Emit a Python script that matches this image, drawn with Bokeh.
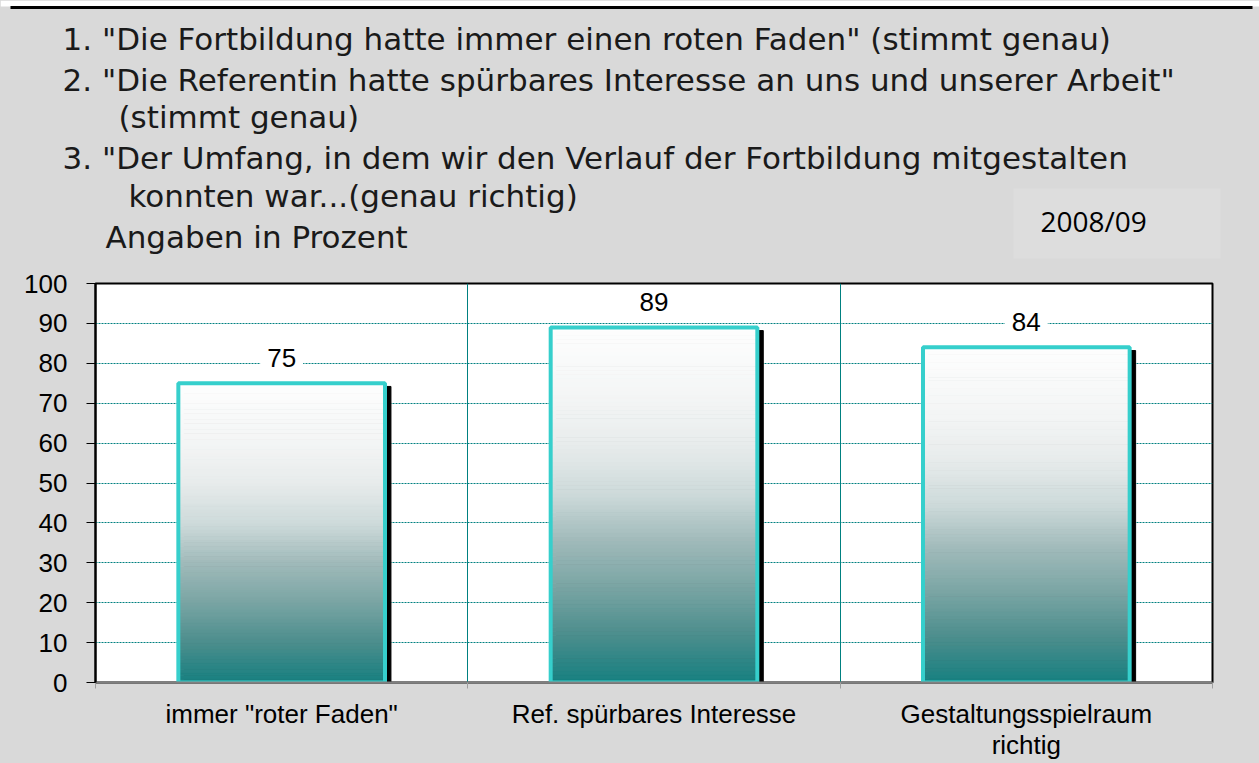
from bokeh.plotting import figure
from bokeh.layouts import column
from bokeh.models import Range1d, FixedTicker
from bokeh.embed import file_html
from bokeh.resources import INLINE
from bokeh.core.properties import value

# ---- data ----
categories = ['immer "roter Faden"', 'Ref. spürbares Interesse', 'Gestaltungsspielraum\nrichtig']
values = [75, 89, 84]
y_ticks = [0, 10, 20, 30, 40, 50, 60, 70, 80, 90, 100]
title_lines = [
    '1. "Die Fortbildung hatte immer einen roten Faden" (stimmt genau)',
    '2. "Die Referentin hatte spürbares Interesse an uns und unserer Arbeit"',
    '(stimmt genau)',
    '3. "Der Umfang, in dem wir den Verlauf der Fortbildung mitgestalten',
    'konnten war...(genau richtig)',
    'Angaben in Prozent',
]
year_label = "2008/09"

# ---- style ----
W, H = 1259, 763
HEAD_H = 268
PANEL = "#d9d9d9"
TEAL = "#008080"
BORDER = "#36cfcc"
BAR_W = 0.555
N_SLICES = 90
stops = [(0.0, (22, 128, 128)), (0.13, (74, 141, 140)), (0.27, (122, 165, 164)),
         (0.40, (160, 186, 186)), (0.53, (205, 218, 218)), (0.67, (232, 236, 236)),
         (0.80, (243, 245, 245)), (1.0, (254, 254, 254))]


def grad(f):
    for (f0, c0), (f1, c1) in zip(stops[:-1], stops[1:]):
        if f <= f1:
            t = (f - f0) / (f1 - f0)
            c = [round(a + (b - a) * t) for a, b in zip(c0, c1)]
            return "#%02x%02x%02x" % tuple(c)
    return "#%02x%02x%02x" % stops[-1][1]


# ---------------- header (text panel) ----------------
head = figure(width=W, height=HEAD_H, output_backend="svg", toolbar_location=None,
              x_range=Range1d(0, W), y_range=Range1d(HEAD_H, 0),
              min_border=0, background_fill_color=PANEL, border_fill_color=PANEL,
              outline_line_color=None)
head.axis.visible = False
head.grid.visible = False
head.frame_align = False

# white page strip and dark rule at the very top
head.quad(left=[0], right=[W], top=[0], bottom=[6], fill_color="white", line_color=None)
head.segment(x0=[10], y0=[7], x1=[1252], y1=[7], line_color="black", line_width=3)

# slightly lighter box behind the year label
head.quad(left=[1013], right=[1220], top=[188], bottom=[258], fill_color="#dddddd", line_color=None)

title_x = [62, 62, 118, 62, 128, 105]
title_y = [38, 79, 116, 157, 195, 236]
head.text(x=title_x, y=title_y, text=title_lines,
          text_font=value("DejaVu Sans"), text_font_size="31px", text_color="#1a1a1a",
          text_align="left", text_baseline="middle")
head.text(x=[1040], y=[220], text=[year_label],
          text_font=value("Open Sans"), text_font_size="28px", text_color="black",
          text_align="left", text_baseline="middle")

# ---------------- chart ----------------
n = len(categories)
pos = [i + 0.5 for i in range(n)]

p = figure(width=W, height=H - HEAD_H, output_backend="svg", toolbar_location=None,
           x_range=Range1d(0, n), y_range=Range1d(0, 100),
           min_border_left=95, min_border_right=W - 1212, min_border_top=283 - HEAD_H,
           min_border_bottom=H - 683,
           background_fill_color="white", border_fill_color=PANEL,
           outline_line_color="black", outline_line_width=2)
p.frame_align = False

# grids
p.xgrid.ticker = FixedTicker(ticks=[i for i in range(1, n)])
p.xgrid.grid_line_color = TEAL
p.xgrid.grid_line_width = 1
p.ygrid.ticker = FixedTicker(ticks=y_ticks[1:-1])
p.ygrid.grid_line_color = TEAL
p.ygrid.grid_line_dash = "2 1"
p.ygrid.grid_line_width = 1

# shadow
p.vbar(x=[x + 0.016 for x in pos], width=BAR_W, bottom=0, top=[v - 0.8 for v in values],
       fill_color="black", line_color="black", line_width=1)

# gradient bars
xs, bots, tops, cols = [], [], [], []
for x, v in zip(pos, values):
    for k in range(N_SLICES):
        xs.append(x)
        bots.append(v * k / N_SLICES)
        tops.append(v * (k + 1) / N_SLICES)
        cols.append(grad((k + 0.5) / N_SLICES))
p.vbar(x=xs, width=BAR_W, bottom=bots, top=tops, fill_color=cols, line_color=cols, line_width=1)

# bar outlines
p.vbar(x=pos, width=BAR_W, bottom=0, top=values, fill_color=None,
       line_color=BORDER, line_width=4)

# value labels
p.text(x=pos, y=values, text=[str(v) for v in values],
       text_font=value("Liberation Sans"), text_font_size="26px", text_color="black",
       text_align="center", text_baseline="alphabetic", y_offset=-25,
       background_fill_color="white", padding=7)

# axes
yax = p.yaxis[0]
yax.ticker = FixedTicker(ticks=y_ticks)
yax.axis_line_color = "black"
yax.axis_line_width = 2
yax.major_tick_line_color = "black"
yax.major_tick_out = 9
yax.major_tick_in = 0
yax.minor_tick_line_color = None
yax.major_label_standoff = 19
yax.major_label_text_font = "Liberation Sans"
yax.major_label_text_font_size = "26px"
yax.major_label_text_color = "black"

xax = p.xaxis[0]
xax.ticker = FixedTicker(ticks=pos, minor_ticks=list(range(0, n + 1)))
xax.major_label_overrides = {x: c for x, c in zip(pos, categories)}
xax.axis_line_color = "#808080"
xax.axis_line_width = 2
xax.major_tick_line_color = None
xax.major_tick_out = 0
xax.major_tick_in = 0
xax.minor_tick_line_color = "#a0a0a0"
xax.minor_tick_out = 6
xax.minor_tick_in = 0
xax.major_label_standoff = 10
xax.major_label_text_font = "Liberation Sans"
xax.major_label_text_font_size = "26px"
xax.major_label_text_color = "black"
xax.major_label_text_line_height = 1.05

layout = column(head, p, spacing=0, styles={"background-color": PANEL})
open("out.html", "w").write(file_html(layout, INLINE))
